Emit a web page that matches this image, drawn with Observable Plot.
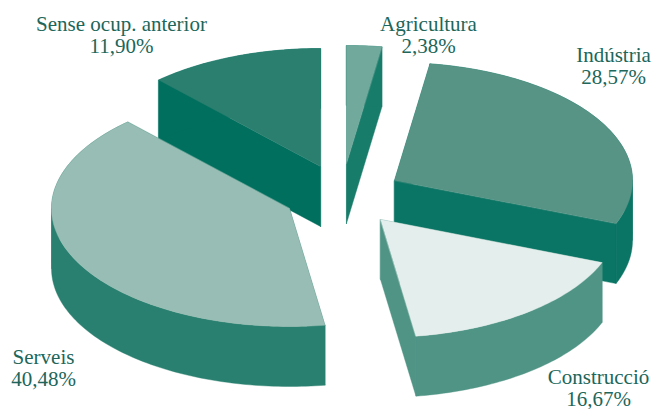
<!DOCTYPE html>
<html><head><meta charset="utf-8">
<style>html,body{margin:0;padding:0;background:#fff}svg{display:block}</style>
<script src="https://cdn.jsdelivr.net/npm/d3@7"></script>
<script src="https://cdn.jsdelivr.net/npm/@observablehq/plot@0.6"></script>
</head><body><div id="chart"></div>
<script>
// Data, clockwise from 12 o'clock
const categories = ["Agricultura","Indústria","Construcció","Serveis","Sense ocup. anterior"];
const shares = [2.38,28.57,16.67,40.48,11.90];

// Appearance of the exploded 3D pie
const topColors  = ["#72a99d","#579485","#e4eeec","#97bdb4","#2a7f6f"];
const sideColors = ["#187c6b","#0a7564","#4f9485","#2a8070","#006f5e"];
const apexX = [346,394,380,289,320];
const apexY = [163,180,219,208,166];
const labelX = [428,613,598,43,121];
const labelBaseline = [52,83,405,385,52];
const RX = 238, RY = 118, DEPTH = 60;
const drawOrder = [4,0,1,2,3];

let cum = 0;
const slices = categories.map((name,i)=>{
  const a0 = cum/100*2*Math.PI; cum += shares[i];
  const a1 = cum/100*2*Math.PI;
  return {name,share:shares[i],a0,a1,ax:apexX[i],ay:apexY[i],top:topColors[i],side:sideColors[i]};
});
const pt = (s,a,d=0)=>({x:s.ax+RX*Math.sin(a), y:s.ay-RY*Math.cos(a)+d});
const arc = (s,a0,a1,d=0)=>{
  const n = Math.max(4,Math.ceil((a1-a0)/0.02));
  return d3.range(n+1).map(k=>pt(s,a0+(a1-a0)*k/n,d));
};
const apex = (s,d=0)=>({x:s.ax,y:s.ay+d});
const face = (pts,fill)=>Plot.line(pts,{x:"x",y:"y",fill,stroke:fill,strokeWidth:0.4,curve:"linear-closed"});

const marks = [];
for (const i of drawOrder){
  const s = slices[i];
  marks.push(face([apex(s),pt(s,s.a0),pt(s,s.a0,DEPTH),apex(s,DEPTH)],s.side));
  marks.push(face([apex(s),pt(s,s.a1),pt(s,s.a1,DEPTH),apex(s,DEPTH)],s.side));
  // split the rim where the ellipse turns back, so each strip is a simple shape
  const stops = [s.a0,...[Math.PI/2,3*Math.PI/2].filter(t=>t>s.a0&&t<s.a1),s.a1];
  d3.pairs(stops).forEach(([p,q])=>marks.push(face([...arc(s,p,q),...arc(s,p,q,DEPTH).reverse()],s.side)));
  marks.push(face([apex(s),...arc(s,s.a0,s.a1)],s.top));
}
const labels = slices.map((s,i)=>({
  text:`${s.name}\n${s.share.toFixed(2).replace(".",",")}%`,
  x:labelX[i], y:labelBaseline[i]
}));
marks.push(Plot.text(labels,{x:"x",y:"y",text:"text",fill:"#20665a",fontSize:21,lineHeight:1.04,
  lineAnchor:"bottom",fontFamily:"'Liberation Serif',serif"}));

document.getElementById("chart").append(Plot.plot({
  width:653,height:409,margin:0,
  x:{domain:[0,653],range:[0,653],axis:null},
  y:{domain:[0,409],range:[0,409],axis:null},
  style:{background:"#fff"},
  marks
}));
</script></body></html>
